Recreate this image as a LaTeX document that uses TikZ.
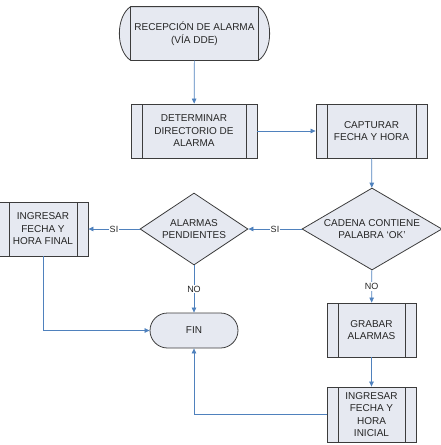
\documentclass[tikz,border=0pt]{standalone}
\usepackage{fontspec}
\setmainfont{Liberation Sans}
\usetikzlibrary{shapes.geometric,arrows.meta,backgrounds}
\definecolor{flowfill}{RGB}{230,233,241}
\definecolor{flowline}{RGB}{79,129,189}
\definecolor{flowedge}{RGB}{60,60,60}
\tikzset{>={Triangle[length=5pt,width=4.5pt]},
  base/.style={draw=flowedge,fill=flowfill,line width=0.8pt,align=center,text=black!85,
    font=\fontsize{10}{12.5}\selectfont,inner sep=0pt},
  procbox/.style={base,rectangle,minimum height=54pt,
    path picture={
      \draw[flowedge,line width=0.8pt] ([xshift=11pt]path picture bounding box.north west) -- ([xshift=11pt]path picture bounding box.south west);
      \draw[flowedge,line width=0.8pt] ([xshift=-11pt]path picture bounding box.north east) -- ([xshift=-11pt]path picture bounding box.south east);}},
  decision/.style={base,diamond,aspect=1.6},
  terminal/.style={base,rectangle,rounded corners=17.5pt,minimum width=88pt,minimum height=35pt},
  link/.style={->,draw=flowline,line width=0.7pt},
  tag/.style={fill=white,inner sep=1pt,text=black!85,font=\fontsize{9}{10}\selectfont}}
\begin{document}
\begin{tikzpicture}[x=1pt,y=1pt]
  \useasboundingbox (0,0) rectangle (441,-445);
  \node[base,draw=none,fill=none,minimum width=127pt,minimum height=53pt] (recep) at (194.5,-33.5) {RECEPCIÓN DE ALARMA\\(VÍA DDE)};
  \begin{scope}[on background layer]
    \draw[flowedge,fill=flowfill,line width=0.8pt] (recep.north west) -- (recep.north east)
      .. controls +(15,-10) and +(15,10) .. (recep.south east) -- (recep.south west)
      .. controls +(-15,10) and +(-15,-10) .. (recep.north west) -- cycle;
    \draw[flowedge,line width=0.8pt] (recep.north west) -- (recep.south west);
    \draw[flowedge,line width=0.8pt] (recep.north east) -- (recep.south east);
  \end{scope}
  \node[procbox,minimum width=126pt] (determ) at (194,-131) {DETERMINAR\\DIRECTORIO DE\\ALARMA};
  \node[procbox,minimum width=111pt] (captur) at (371.5,-131) {CAPTURAR\\FECHA Y HORA};
  \node[decision,minimum width=140pt,minimum height=82pt] (cadena) at (372,-229) {CADENA CONTIENE\\PALABRA `OK'};
  \node[decision,minimum width=108pt,minimum height=72pt] (pend) at (194,-229) {ALARMAS\\PENDIENTES};
  \node[procbox,minimum width=90pt] (ingfin) at (43,-229) {INGRESAR\\FECHA Y\\HORA FINAL};
  \node[terminal] (fin) at (194,-330.5) {FIN};
  \node[procbox,minimum width=89pt] (grabar) at (371.5,-330) {GRABAR\\ALARMAS};
  \node[procbox,minimum width=89pt,minimum height=55pt] (ingini) at (371.5,-414.5) {INGRESAR\\FECHA Y\\HORA\\INICIAL};

  \draw[link] (recep) -- (determ);
  \draw[link] (determ) -- (captur);
  \draw[link] (captur) -- (cadena);
  \draw[link] (cadena) -- node[tag]{SI} (pend);
  \draw[link] (pend) -- node[tag]{SI} (ingfin);
  \draw[link] (pend) -- node[tag]{NO} (fin);
  \draw[link] (cadena) -- node[tag]{NO} (grabar);
  \draw[link] (grabar) -- (ingini);
  \draw[link] (ingini.west) -| (fin.south);
  \draw[link] (ingfin.south) |- (fin.west);
\end{tikzpicture}
\end{document}
